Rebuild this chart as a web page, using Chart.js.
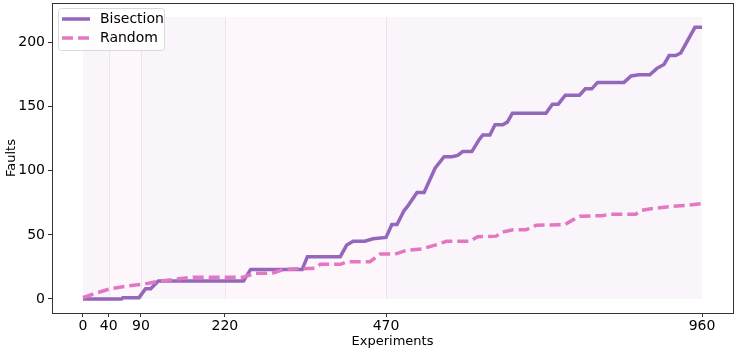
<!DOCTYPE html>
<html>
<head>
  <meta charset="UTF-8" />
  <title>Faults found per experiment</title>
  <style>
    html, body { margin: 0; padding: 0; background: #fff; }
    #wrap { width: 736px; height: 351px; }
  </style>
</head>
<body>
  <div id="wrap"><canvas id="faultsChart" width="736" height="351"></canvas></div>
  <script src="https://cdn.jsdelivr.net/npm/chart.js"></script>
  <script>
    // cumulative faults found, sampled at the corners of each curve
    const bisectionX = [0, 60, 62, 87, 97, 105, 117, 249, 260, 340, 348, 399, 409, 419, 437, 450, 470, 479, 487, 498, 503, 518, 529, 546, 560, 572, 581, 589, 603, 614, 620, 631, 639, 651, 658, 666, 718, 728, 737, 748, 770, 779, 789, 798, 839, 850, 862, 879, 890, 901, 909, 919, 927, 949, 960];
    const bisectionY = [0, 0, 1, 1, 8, 8, 14, 14, 23, 23, 33, 33, 42, 45, 45, 47, 48, 58, 58, 69, 72, 83, 83, 102, 111, 111, 112, 115, 115, 124, 128, 128, 136, 136, 138, 145, 145, 152, 152, 159, 159, 164, 164, 169, 169, 174, 175, 175, 180, 183, 190, 190, 192, 212, 212];

    const randomX = [0, 17, 43, 69, 100, 120, 172, 249, 267, 293, 311, 360, 368, 399, 409, 445, 461, 484, 502, 525, 546, 564, 600, 612, 641, 649, 667, 687, 703, 747, 759, 770, 805, 816, 857, 865, 883, 909, 935, 960];
    const randomY = [1, 4, 8, 10, 12, 14, 17, 17, 20, 20, 23, 24, 27, 27, 29, 29, 35, 35, 38, 39, 42, 45, 45, 48.5, 49, 52, 54, 54, 57.5, 58, 61.5, 64.5, 65, 66, 66, 69, 70.5, 72, 73, 74.5];

    // phase boundaries (experiments) and the height of the shaded bands
    const phaseEdges = [0, 40, 90, 220, 470, 960];
    const bandTop = 220;
    const xTicks = [0, 40, 90, 220, 470, 960];
    const yTicks = [0, 50, 100, 150, 200];

    const purple = '#9467bd';
    const pink = '#e377c2';
    const bandColors = ['rgba(170,110,190,0.07)', 'rgba(227,119,194,0.065)'];

    const FONT = 'DejaVu Sans';
    Chart.defaults.font.family = FONT;
    Chart.defaults.color = '#000';

    const toPoints = (xs, ys) => xs.map((x, i) => ({ x: x, y: ys[i] }));

    const phaseBands = {
      id: 'phaseBands',
      beforeDatasetsDraw(chart) {
        const { ctx, chartArea, scales } = chart;
        const xs = scales.x, ys = scales.y;
        ctx.save();
        ctx.beginPath();
        ctx.rect(chartArea.left, chartArea.top, chartArea.right - chartArea.left, chartArea.bottom - chartArea.top);
        ctx.clip();
        const y0 = ys.getPixelForValue(0);
        const y1 = ys.getPixelForValue(bandTop);
        for (let i = 0; i < phaseEdges.length - 1; i++) {
          const a = xs.getPixelForValue(phaseEdges[i]);
          const b = xs.getPixelForValue(phaseEdges[i + 1]);
          ctx.fillStyle = bandColors[i % 2];
          ctx.fillRect(a, y1, b - a, y0 - y1);
        }
        ctx.strokeStyle = 'rgba(190,150,210,0.22)';
        ctx.lineWidth = 1;
        for (let i = 1; i < phaseEdges.length - 1; i++) {
          const a = Math.round(xs.getPixelForValue(phaseEdges[i])) + 0.5;
          ctx.beginPath();
          ctx.moveTo(a, y1);
          ctx.lineTo(a, y0);
          ctx.stroke();
        }
        ctx.restore();
      },
      afterDraw(chart) {
        const { ctx, chartArea } = chart;
        ctx.save();
        // axes frame
        ctx.strokeStyle = '#333';
        ctx.lineWidth = 1;
        ctx.strokeRect(Math.round(chartArea.left) + 0.5, Math.round(chartArea.top) + 0.5,
          Math.round(chartArea.right - chartArea.left), Math.round(chartArea.bottom - chartArea.top));

        // legend box, upper left
        const lx = chartArea.left + 6, ly = chartArea.top + 5;
        const w = 106, h = 42, r = 3;
        ctx.fillStyle = 'rgba(255,255,255,0.8)';
        ctx.strokeStyle = '#d9d9d9';
        ctx.beginPath();
        ctx.roundRect(lx + 0.5, ly + 0.5, w, h, r);
        ctx.fill();
        ctx.stroke();

        const entries = [
          { label: 'Bisection', color: purple, dash: [] },
          { label: 'Random', color: pink, dash: [11, 5] }
        ];
        ctx.font = '14px ' + FONT;
        ctx.textBaseline = 'middle';
        entries.forEach((e, i) => {
          const cy = ly + 11 + i * 19;
          ctx.strokeStyle = e.color;
          ctx.lineWidth = 3.5;
          ctx.setLineDash(e.dash);
          ctx.beginPath();
          ctx.moveTo(lx + 4, cy);
          ctx.lineTo(lx + 32, cy);
          ctx.stroke();
          ctx.setLineDash([]);
          ctx.fillStyle = '#000';
          ctx.fillText(e.label, lx + 42, cy);
        });
        ctx.restore();
      }
    };

    new Chart(document.getElementById('faultsChart'), {
      type: 'line',
      data: {
        datasets: [
          {
            label: 'Random',
            data: toPoints(randomX, randomY),
            borderColor: pink,
            borderWidth: 3.5,
            borderDash: [11, 5],
            pointRadius: 0,
            tension: 0,
            order: 0
          },
          {
            label: 'Bisection',
            data: toPoints(bisectionX, bisectionY),
            borderColor: purple,
            borderWidth: 3.5,
            pointRadius: 0,
            tension: 0,
            order: 1
          }
        ]
      },
      options: {
        responsive: false,
        animation: false,
        layout: { padding: { top: 3, right: 3, left: 0, bottom: 0 } },
        plugins: {
          legend: { display: false },
          tooltip: { enabled: false }
        },
        scales: {
          x: {
            type: 'linear',
            min: -48,
            max: 1008,
            afterBuildTicks: axis => { axis.ticks = xTicks.map(v => ({ value: v })); },
            afterFit: axis => { axis.height = 38; axis.paddingLeft = 0; axis.paddingRight = 0; },
            grid: { drawOnChartArea: false, drawTicks: true, tickLength: 4, tickColor: '#333' },
            border: { display: false },
            ticks: { font: { size: 14 }, padding: 1, maxRotation: 0, autoSkip: false },
            title: { display: true, text: 'Experiments', font: { size: 13 }, padding: { top: 0, bottom: 2 } }
          },
          y: {
            type: 'linear',
            min: -11,
            max: 231,
            afterBuildTicks: axis => { axis.ticks = yTicks.map(v => ({ value: v })); },
            afterFit: axis => { axis.width = 52; axis.paddingTop = 0; axis.paddingBottom = 0; },
            grid: { drawOnChartArea: false, drawTicks: true, tickLength: 4, tickColor: '#333' },
            border: { display: false },
            ticks: { font: { size: 14 }, padding: 3 },
            title: { display: true, text: 'Faults', font: { size: 13 }, padding: { top: 4, bottom: 0 } }
          }
        }
      },
      plugins: [phaseBands]
    });
  </script>
</body>
</html>
